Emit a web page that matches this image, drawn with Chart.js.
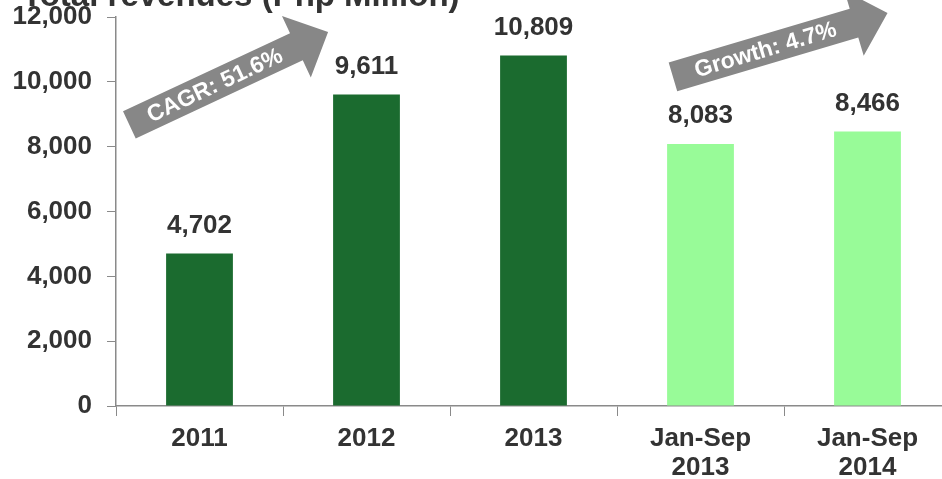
<!DOCTYPE html>
<html>
<head>
<meta charset="utf-8">
<script src="https://cdn.jsdelivr.net/npm/chart.js@4/dist/chart.umd.min.js"></script>
<style>
  html, body { margin: 0; padding: 0; background: #fff; overflow: hidden; }
  canvas { display: block; }
</style>
</head>
<body>
<canvas id="revChart" width="960" height="479"></canvas>
<script>
// Total revenues, Php million
const periods  = [['2011'], ['2012'], ['2013'], ['Jan-Sep', '2013'], ['Jan-Sep', '2014']];
const revenues = [4702, 9611, 10809, 8083, 8466];
const barColors = ['#1b6b2f', '#1b6b2f', '#1b6b2f', '#98fb98', '#98fb98'];
const yTicks   = [0, 2000, 4000, 6000, 8000, 10000, 12000];

// growth arrows, ends given in axis units (category index, Php million)
const arrows = [
  { text: 'CAGR: 51.6%',  from: [-0.42, 8670],  to: [0.77, 11540] },
  { text: 'Growth: 4.7%', from: [2.835, 10150], to: [4.12, 12120] },
];

const TEXT = '#333333';
const AXIS = '#8a8a8a';
const FONT = 'Arial, "Liberation Sans", sans-serif';

const fmt = v => v.toLocaleString('en-US');

// title sits half off the top edge, behind the axis labels
const chartTitle = {
  id: 'chartTitle',
  beforeDraw(chart) {
    const c = chart.ctx;
    c.save();
    c.fillStyle = TEXT;
    c.font = `bold 33px ${FONT}`;
    c.textAlign = 'left';
    c.textBaseline = 'alphabetic';
    c.fillText('Total revenues (Php Million)', 22, 6);
    c.restore();
  },
};

const valueLabels = {
  id: 'valueLabels',
  afterDatasetsDraw(chart) {
    const c = chart.ctx;
    const meta = chart.getDatasetMeta(0);
    c.save();
    c.fillStyle = TEXT;
    c.font = `bold 26px ${FONT}`;
    c.textAlign = 'center';
    c.textBaseline = 'middle';
    meta.data.forEach((bar, i) => c.fillText(fmt(revenues[i]), bar.x, bar.y - 28));
    c.restore();
  },
};

const growthArrows = {
  id: 'growthArrows',
  afterDraw(chart) {
    const { ctx: c, scales: { x, y } } = chart;
    const shaft = 15, head = 34, headLen = 35;
    arrows.forEach(a => {
      const x0 = x.getPixelForValue(a.from[0]), y0 = y.getPixelForValue(a.from[1]);
      const x1 = x.getPixelForValue(a.to[0]),   y1 = y.getPixelForValue(a.to[1]);
      const len = Math.hypot(x1 - x0, y1 - y0);
      const ang = Math.atan2(y1 - y0, x1 - x0);
      c.save();
      c.translate(x0, y0);
      c.rotate(ang);
      c.fillStyle = '#878787';
      c.beginPath();
      c.moveTo(0, -shaft);
      c.lineTo(len - headLen, -shaft);
      c.lineTo(len - headLen, -head);
      c.lineTo(len, 0);
      c.lineTo(len - headLen, head);
      c.lineTo(len - headLen, shaft);
      c.lineTo(0, shaft);
      c.closePath();
      c.fill();
      c.fillStyle = '#ffffff';
      c.font = `bold 23px ${FONT}`;
      c.textAlign = 'center';
      c.textBaseline = 'middle';
      c.fillText(a.text, (len - headLen) / 2 + 2, 1);
      c.restore();
    });
  },
};

new Chart(document.getElementById('revChart'), {
  type: 'bar',
  data: {
    labels: periods,
    datasets: [{
      data: revenues,
      backgroundColor: barColors,
      borderWidth: 0,
      categoryPercentage: 1,
      barPercentage: 0.4,
    }],
  },
  options: {
    responsive: false,
    animation: false,
    layout: { padding: { top: 17, right: 9, left: 0, bottom: 0 } },
    plugins: { legend: { display: false }, tooltip: { enabled: false } },
    scales: {
      x: {
        grid: { drawOnChartArea: false, color: AXIS, tickLength: 10, offset: true },
        border: { color: AXIS, width: 1.5 },
        ticks: { color: TEXT, font: { family: FONT, size: 26, weight: 'bold', lineHeight: 1.1 }, padding: 9, maxRotation: 0 },
        afterFit: s => { s.height = 73; s.paddingLeft = 0; s.paddingRight = 0; },
      },
      y: {
        min: 0, max: 12000,
        afterBuildTicks: s => { s.ticks = yTicks.map(v => ({ value: v })); },
        grid: { drawOnChartArea: false, color: AXIS, tickLength: 9 },
        border: { color: AXIS, width: 1.5 },
        ticks: { color: TEXT, font: { family: FONT, size: 26, weight: 'bold' }, padding: 15, callback: v => fmt(v) },
        afterFit: s => { s.width = 116; s.paddingTop = 0; s.paddingBottom = 0; },
      },
    },
  },
  plugins: [chartTitle, growthArrows, valueLabels],
});
</script>
</body>
</html>
